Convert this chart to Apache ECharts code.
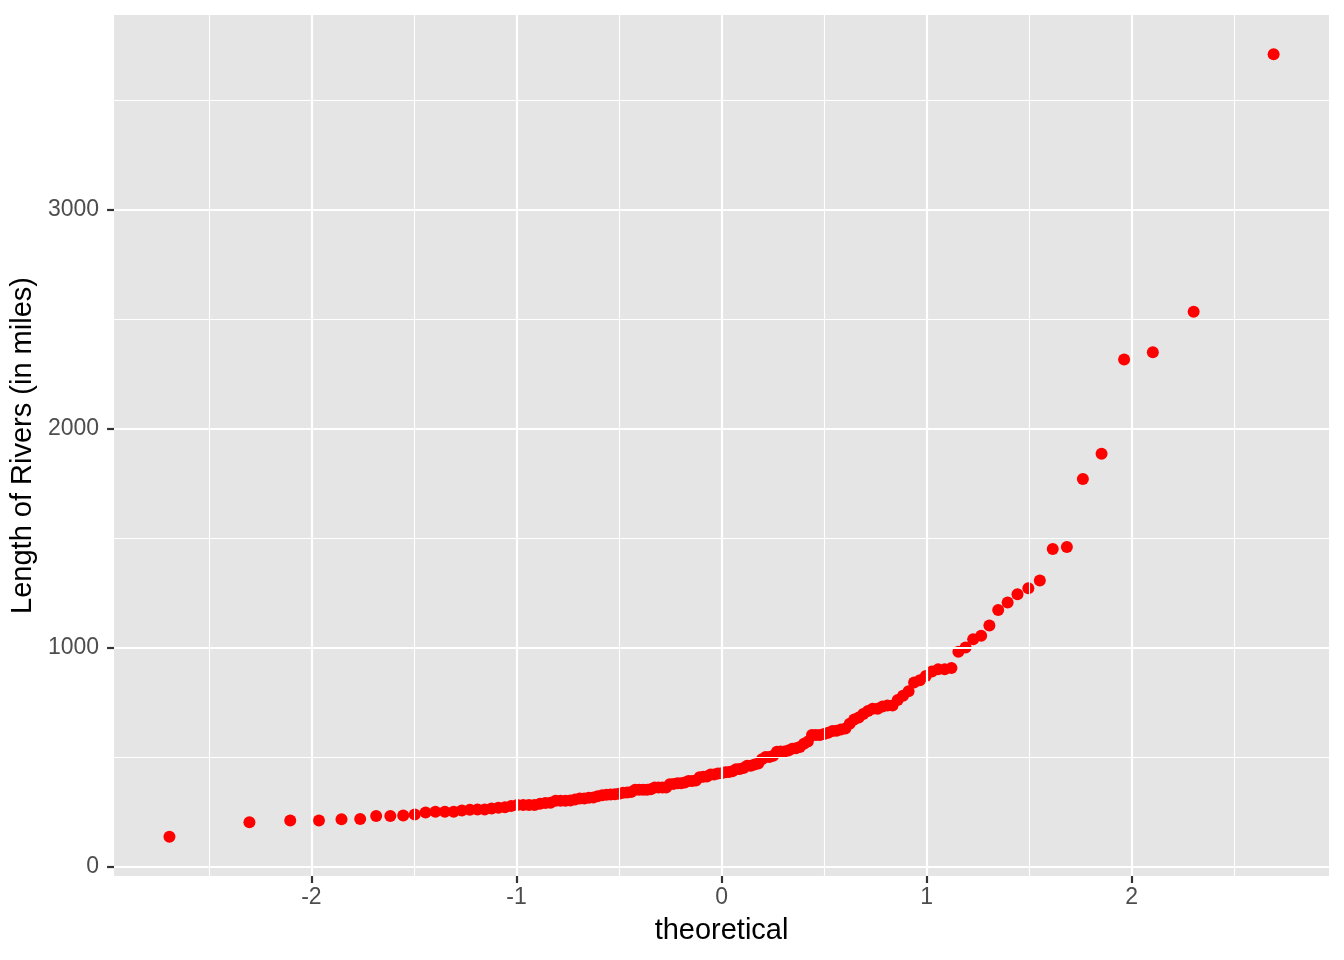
<!DOCTYPE html>
<html>
<head>
<meta charset="utf-8">
<script src="https://cdn.jsdelivr.net/npm/echarts@6/dist/echarts.min.js"></script>
<style>
html,body{margin:0;padding:0;background:#fff;}
#chart{width:1344px;height:960px;}
</style>
</head>
<body>
<div id="chart"></div>
<script>
// Theoretical normal quantiles (x) for 141 points
const theoretical = [
-2.692,-2.302,-2.103,-1.963,-1.853,-1.762,-1.684,-1.615,-1.552,-1.496,-1.443,-1.395,-1.349,-1.306,-1.266,-1.227,-1.190,-1.155,-1.121,-1.088,
-1.056,-1.026,-0.996,-0.967,-0.939,-0.912,-0.885,-0.859,-0.834,-0.809,-0.785,-0.761,-0.737,-0.714,-0.691,-0.669,-0.647,-0.625,-0.604,-0.582,
-0.561,-0.541,-0.520,-0.500,-0.480,-0.460,-0.441,-0.421,-0.402,-0.382,-0.363,-0.345,-0.326,-0.307,-0.288,-0.270,-0.252,-0.233,-0.215,-0.197,
-0.179,-0.161,-0.143,-0.125,-0.107,-0.089,-0.071,-0.053,-0.036,-0.018,
0,
0.018,0.036,0.053,0.071,0.089,0.107,0.125,0.143,0.161,0.179,0.197,0.215,0.233,0.252,0.270,0.288,0.307,0.326,0.345,0.363,
0.382,0.402,0.421,0.441,0.460,0.480,0.500,0.520,0.541,0.561,0.582,0.604,0.625,0.647,0.669,0.691,0.714,0.737,0.761,0.785,
0.809,0.834,0.859,0.885,0.912,0.939,0.967,0.996,1.026,1.056,1.088,1.121,1.155,1.190,1.227,1.266,1.306,1.349,1.395,1.443,
1.496,1.552,1.615,1.684,1.762,1.853,1.963,2.103,2.302,2.692
];
// Sorted river lengths (sample quantiles, y)
const riverLengths = [
135,
202,210,210,215,217,230,230,233,237,246,250,250,250,255,259,260,260,265,268,270,276,280,280,280,281,286,290,291,
300,300,300,301,306,310,310,314,315,320,325,327,329,330,332,336,338,340,350,350,350,350,352,360,360,360,360,375,377,380,380,383,390,390,392,
407,410,411,420,420,424,425,430,431,435,444,445,450,460,460,465,470,490,
500,500,505,524,525,525,529,538,540,545,560,570,
600,600,600,605,610,618,620,625,630,652,671,680,696,
710,720,720,730,735,735,760,780,
800,840,850,870,890,
900,900,906,981,
1000,1038,1054,1100,1171,1205,1243,1270,1306,1450,1459,1770,1885,2315,2348,2533,3710
];
const xTicks = [-2, -1, 0, 1, 2];
const xMinor = [-2.5, -1.5, -0.5, 0.5, 1.5, 2.5];
const yTicks = [0, 1000, 2000, 3000];
const yMinor = [500, 1500, 2500, 3500];
const xTitle = 'theoretical';
const yTitle = 'Length of Rivers (in miles)';

const points = theoretical.map((x, i) => [x, riverLengths[i]]);
const FONT = '"Liberation Sans", Arial, Helvetica, sans-serif';

const gridLines = [];
xMinor.forEach(v => gridLines.push({xAxis: v, lineStyle: {width: 1.1}}));
yMinor.forEach(v => gridLines.push({yAxis: v, lineStyle: {width: 1.1}}));
xTicks.forEach(v => gridLines.push({xAxis: v, lineStyle: {width: 2.2}}));
yTicks.forEach(v => gridLines.push({yAxis: v, lineStyle: {width: 2.2}}));

const chart = echarts.init(document.getElementById('chart'), null, {renderer: 'canvas'});
chart.setOption({
  animation: false,
  backgroundColor: '#ffffff',
  grid: {
    left: 114, top: 15, width: 1215, height: 861,
    show: true, backgroundColor: '#E5E5E5', borderWidth: 0,
    containLabel: false
  },
  xAxis: {
    type: 'value',
    min: -2.962, max: 2.962,
    name: xTitle, nameLocation: 'middle', nameGap: 40,
    nameTextStyle: {color: '#000', fontSize: 29, fontFamily: FONT},
    axisLine: {show: false, onZero: false},
    axisTick: {show: true, length: 7, customValues: xTicks, lineStyle: {color: '#333333', width: 2.2}},
    axisLabel: {show: true, customValues: xTicks, margin: 10, color: '#4D4D4D', fontSize: 23, fontFamily: FONT,
      formatter: v => String(v)},
    splitLine: {show: false}
  },
  yAxis: {
    type: 'value',
    min: -43.75, max: 3888.75,
    name: yTitle, nameLocation: 'middle', nameGap: 75, nameRotate: 90,
    nameTextStyle: {color: '#000', fontSize: 29, fontFamily: FONT},
    axisLine: {show: false, onZero: false},
    axisTick: {show: true, length: 7, customValues: yTicks, lineStyle: {color: '#333333', width: 2.2}},
    axisLabel: {show: true, customValues: yTicks, margin: 15, color: '#4D4D4D', fontSize: 23, fontFamily: FONT,
      formatter: v => String(v)},
    splitLine: {show: false}
  },
  series: [
    {
      type: 'scatter', data: [], z: 1, silent: true,
      markLine: {
        silent: true, symbol: ['none', 'none'], label: {show: false},
        lineStyle: {color: '#ffffff', type: 'solid'},
        emphasis: {disabled: true},
        data: gridLines, animation: false
      }
    },
    {
      type: 'scatter', data: points, z: 3,
      symbol: 'circle', symbolSize: 12,
      itemStyle: {color: '#FF0000', opacity: 1},
      emphasis: {disabled: true}
    }
  ]
});
</script>
</body>
</html>
